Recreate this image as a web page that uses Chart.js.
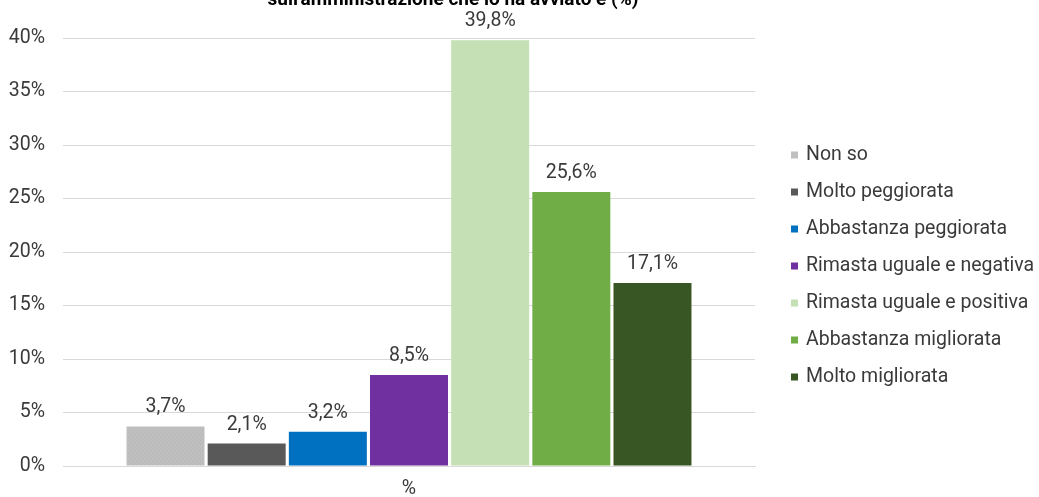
<!DOCTYPE html>
<html>
<head>
<meta charset="utf-8">
<script src="https://cdn.jsdelivr.net/npm/chart.js@4.4.1/dist/chart.umd.min.js"></script>
<style>
    html, body { margin: 0; padding: 0; background: #fff; overflow: hidden; }
    #wrap { position: relative; width: 1039px; height: 497px; }
</style>
</head>
<body>
<div id="wrap"><canvas id="chart" width="1039" height="497"></canvas></div>
<script>
const categories = ['%'];
const seriesNames = [
    'Non so',
    'Molto peggiorata',
    'Abbastanza peggiorata',
    'Rimasta uguale e negativa',
    'Rimasta uguale e positiva',
    'Abbastanza migliorata',
    'Molto migliorata'
];
const seriesValues = [3.7, 2.1, 3.2, 8.5, 39.8, 25.6, 17.1];
const seriesColors = ['#bfbfbf', '#595959', '#0070c0', '#7030a0', '#c5e0b4', '#70ad47', '#375623'];
const yTicks = [0, 5, 10, 15, 20, 25, 30, 35, 40];
const titleText = "sull'amministrazione che lo ha avviato è (%)";

const textColor = '#3a3a3a';
const fontFamily = 'Roboto, "Liberation Sans", sans-serif';
const fontSize = 19.5;

// dotted fill for the "Non so" bar
function dottedPattern(base) {
    const c = document.createElement('canvas');
    c.width = 4;
    c.height = 4;
    const g = c.getContext('2d');
    g.fillStyle = base;
    g.fillRect(0, 0, 4, 4);
    g.fillStyle = '#b3b3b3';
    g.fillRect(0, 0, 1, 1);
    g.fillRect(2, 2, 1, 1);
    return g.createPattern(c, 'repeat');
}

const fmt = v => v.toFixed(1).replace('.', ',') + '%';

// value labels above bars, clipped title line, legend on the right
const labelPlugin = {
    id: 'valueLabels',
    afterDatasetsDraw(chart) {
        const ctx = chart.ctx;
        ctx.save();
        ctx.font = fontSize + 'px ' + fontFamily;
        ctx.fillStyle = textColor;
        ctx.textAlign = 'center';
        ctx.textBaseline = 'alphabetic';
        chart.data.datasets.forEach((ds, i) => {
            const meta = chart.getDatasetMeta(i);
            meta.data.forEach((bar, j) => {
                ctx.fillText(fmt(ds.data[j]), bar.x, bar.y - 14);
            });
        });

        ctx.font = 'bold 19px ' + fontFamily;
        ctx.fillStyle = '#000';
        ctx.fillText(titleText, 453, 5);

        // legend
        ctx.font = fontSize + 'px ' + fontFamily;
        ctx.textAlign = 'left';
        ctx.textBaseline = 'middle';
        chart.data.datasets.forEach((ds, i) => {
            const y = 155 + i * 37;
            ctx.fillStyle = seriesColors[i];
            ctx.fillRect(791, y - 3.5, 7, 7);
            ctx.fillStyle = textColor;
            ctx.fillText(ds.label, 806, y);
        });
        ctx.restore();
    }
};

const datasets = seriesNames.map((name, i) => ({
    label: name,
    data: [seriesValues[i]],
    backgroundColor: i === 0 ? dottedPattern(seriesColors[i]) : seriesColors[i],
    borderWidth: 0,
    barPercentage: 0.961,
    categoryPercentage: 0.821
}));

new Chart(document.getElementById('chart'), {
    type: 'bar',
    data: { labels: categories, datasets: datasets },
    options: {
        responsive: false,
        animation: false,
        layout: { padding: { top: 38, left: 8, right: 284, bottom: 0 } },
        plugins: {
            title: { display: false },
            tooltip: { enabled: false },
            legend: { display: false }
        },
        scales: {
            x: {
                grid: { display: false, drawTicks: false },
                border: { display: true, color: '#d9d9d9', width: 1 },
                ticks: { font: { family: fontFamily, size: fontSize }, color: textColor, padding: 11 },
                afterFit(axis) { axis.height = 31; }
            },
            y: {
                min: 0,
                max: 40,
                afterBuildTicks(axis) {
                    axis.ticks = yTicks.map(v => ({ value: v }));
                },
                grid: { color: '#d9d9d9', drawTicks: false },
                border: { display: false },
                ticks: {
                    font: { family: fontFamily, size: fontSize },
                    color: textColor,
                    padding: 18,
                    callback: v => v + '%'
                },
                afterFit(axis) { axis.width = 55; }
            }
        }
    },
    plugins: [labelPlugin]
});
</script>
</body>
</html>
